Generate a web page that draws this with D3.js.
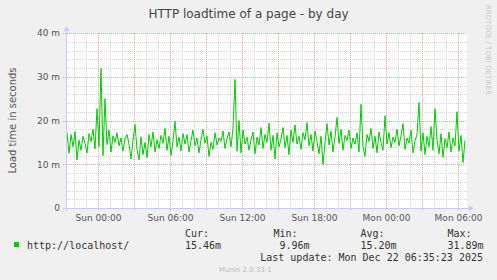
<!DOCTYPE html>
<html>
<head>
<meta charset="utf-8">
<script src="https://cdn.jsdelivr.net/npm/d3@7"></script>
<style>
  body { margin: 0; background: #f0f0f0; }
  text { font-family: "DejaVu Sans", sans-serif; }
  .mono { font-family: "DejaVu Sans Mono", monospace; white-space: pre; }
</style>
</head>
<body>
<div id="chart"></div>
<script>
var outerWidth = 497,
    outerHeight = 280
var plotLeft = 66, plotRight = 467, plotTop = 33, plotBottom = 208

// time window of the graph and the samples (10 min steps)
var viewStart = new Date(2025, 11, 20, 21, 20)
var viewEnd = new Date(2025, 11, 22, 6, 45)
var sampleStart = new Date(2025, 11, 20, 21, 25)
var sampleStepMin = 10

var loadtimeMs = [
    17.2, 12.5, 16.8, 14.0, 17.5, 11.0, 15.5, 13.2, 16.4, 14.8, 12.6, 17.0, 15.2, 18.0, 13.5, 22.7, 14.0, 31.89, 12.0, 25.0,
    14.5, 17.8, 12.8, 16.5, 15.0, 17.2, 14.2, 16.0, 13.0, 15.8, 16.8, 14.6, 11.2, 15.5, 19.1, 13.4, 11.0, 16.2, 12.2, 15.0,
    11.5, 16.8, 14.0, 17.4, 12.8, 15.6, 13.6, 16.6, 14.8, 18.2, 13.2, 16.4, 12.0, 15.2, 19.8, 14.0, 16.2, 13.0, 17.0, 14.6,
    16.8, 12.8, 15.4, 17.8, 14.2, 16.0, 12.6, 15.6, 18.0, 14.8, 16.4, 11.8, 15.0, 13.4, 17.2, 14.4, 16.0, 15.2, 17.6, 13.6,
    15.8, 17.4, 14.0, 18.2, 29.4, 13.0, 20.0, 12.6, 17.8, 14.6, 16.2, 13.2, 15.6, 17.4, 12.4, 16.2, 14.4, 18.4, 13.6, 16.8,
    15.0, 19.4, 13.2, 16.6, 11.2, 17.2, 14.0, 15.8, 18.4, 13.8, 16.6, 12.2, 17.8, 15.0, 19.0, 14.6, 16.4, 13.4, 17.2, 15.6,
    19.5, 14.2, 16.8, 13.0, 17.6, 15.2, 12.4, 16.4, 9.96, 15.0, 19.3, 14.4, 17.6, 12.8, 16.2, 20.7, 14.8, 18.0, 13.2, 16.6,
    15.4, 17.8, 13.6, 16.0, 14.6, 17.2, 12.8, 23.7, 14.0, 11.8, 16.8, 15.2, 18.2, 13.6, 16.4, 12.6, 17.4, 15.0, 13.2, 21.1,
    14.6, 17.2, 13.8, 16.2, 15.0, 18.0, 14.2, 16.6, 19.3, 13.4, 16.0, 14.8, 17.8, 12.6, 15.4, 16.8, 24.1, 13.0, 17.2, 12.2,
    16.4, 14.0, 18.6, 13.2, 22.7, 15.6, 12.4, 17.0, 11.6, 15.8, 13.8, 17.4, 12.8, 16.0, 14.2, 22.0, 13.0, 16.6, 10.4, 15.46
]

var yMajorTicks = [0, 10, 20, 30, 40]
var yMinorTicks = [2, 4, 6, 8, 12, 14, 16, 18, 22, 24, 26, 28, 32, 34, 36, 38]
var legendLabel = "http://localhost/"
var legendHeads = ["Cur:", "Min:", "Avg:", "Max:"]
var legendValues = ["15.46m", " 9.96m", "15.20m", "31.89m"]
var lastUpdate = "Last update: Mon Dec 22 06:35:23 2025"

var data = loadtimeMs.map(function(v, i) {
    return { t: d3.timeMinute.offset(sampleStart, i * sampleStepMin), v: v }
})

var svg = d3.select("#chart")
    .append("svg")
    .attr("width", outerWidth)
    .attr("height", outerHeight)

svg.append("rect")
    .attr("width", outerWidth)
    .attr("height", outerHeight)
    .attr("fill", "#f0f0f0")

var xScale = d3.scaleTime().domain([viewStart, viewEnd]).range([plotLeft, plotRight])
var yScale = d3.scaleLinear().domain([0, 40]).range([plotBottom, plotTop])

svg.append("rect")
    .attr("x", plotLeft)
    .attr("y", plotTop)
    .attr("width", plotRight - plotLeft)
    .attr("height", plotBottom - plotTop)
    .attr("fill", "#ffffff")

var hourTicks = d3.timeHour.range(viewStart, viewEnd)
var minorX = hourTicks.filter(function(d) { return d.getHours() % 3 != 0 })
var majorX = hourTicks.filter(function(d) { return d.getHours() % 3 == 0 })
var labelX = hourTicks.filter(function(d) { return d.getHours() % 6 == 0 })

var grid = svg.append("g").attr("shape-rendering", "crispEdges")

// minor grid
grid.selectAll(".vmin").data(minorX).enter().append("line")
    .attr("x1", d => Math.round(xScale(d)) + 0.5).attr("x2", d => Math.round(xScale(d)) + 0.5)
    .attr("y1", plotTop).attr("y2", plotBottom)
    .attr("stroke", "#d4d4d4").attr("stroke-dasharray", "1,1")
grid.selectAll(".hmin").data(yMinorTicks).enter().append("line")
    .attr("x1", plotLeft).attr("x2", plotRight)
    .attr("y1", d => Math.round(yScale(d)) + 0.5).attr("y2", d => Math.round(yScale(d)) + 0.5)
    .attr("stroke", "#d4d4d4").attr("stroke-dasharray", "1,1")

// major grid
grid.selectAll(".vmaj").data(majorX).enter().append("line")
    .attr("x1", d => Math.round(xScale(d)) + 0.5).attr("x2", d => Math.round(xScale(d)) + 0.5)
    .attr("y1", plotTop).attr("y2", plotBottom + 3)
    .attr("stroke", "#f2a0a0").attr("stroke-dasharray", "1,1")
grid.selectAll(".hmaj").data(yMajorTicks.slice(1)).enter().append("line")
    .attr("x1", plotLeft - 3).attr("x2", plotRight)
    .attr("y1", d => Math.round(yScale(d)) + 0.5).attr("y2", d => Math.round(yScale(d)) + 0.5)
    .attr("stroke", "#f2a0a0").attr("stroke-dasharray", "1,1")

// data line
var line = d3.line()
    .x(d => xScale(d.t))
    .y(d => yScale(d.v))

svg.append("path")
    .datum(data)
    .attr("d", line)
    .attr("fill", "none")
    .attr("stroke", "#00cc00")
    .attr("stroke-width", 1)

// axes
var xAxis = svg.append("g")
    .attr("transform", "translate(0," + plotBottom + ")")
    .call(d3.axisBottom(xScale).tickValues(labelX).tickSize(0).tickPadding(7)
        .tickFormat(d3.timeFormat("%a %H:%M")))
xAxis.select(".domain").remove()
xAxis.selectAll("text").attr("font-size", "9px").attr("fill", "#555")
    .attr("font-family", "DejaVu Sans")

var yAxis = svg.append("g")
    .attr("transform", "translate(" + plotLeft + ",0)")
    .call(d3.axisLeft(yScale).tickValues(yMajorTicks).tickSize(0).tickPadding(6)
        .tickFormat(d => d == 0 ? "0" : d + " m"))
yAxis.select(".domain").remove()
yAxis.selectAll("text").attr("font-size", "9px").attr("fill", "#555")
    .attr("font-family", "DejaVu Sans")

var axisColor = "#c8c8ff"
svg.append("line")
    .attr("x1", plotLeft + 0.5).attr("x2", plotLeft + 0.5)
    .attr("y1", plotBottom + 3).attr("y2", plotTop - 4)
    .attr("stroke", axisColor)
svg.append("line")
    .attr("x1", plotLeft - 3).attr("x2", plotRight + 4)
    .attr("y1", plotBottom + 0.5).attr("y2", plotBottom + 0.5)
    .attr("stroke", axisColor)
svg.append("path")
    .attr("d", "M" + (plotLeft - 2.5) + "," + (plotTop - 2) + "L" + (plotLeft + 0.5) + "," + (plotTop - 7) + "L" + (plotLeft + 3.5) + "," + (plotTop - 2) + "Z")
    .attr("fill", axisColor)
svg.append("path")
    .attr("d", "M" + (plotRight + 2) + "," + (plotBottom - 2.5) + "L" + (plotRight + 7) + "," + (plotBottom + 0.5) + "L" + (plotRight + 2) + "," + (plotBottom + 3.5) + "Z")
    .attr("fill", axisColor)

// titles
svg.append("text")
    .attr("x", 248.5)
    .attr("y", 18)
    .attr("text-anchor", "middle")
    .attr("font-size", "12px")
    .attr("fill", "#444")
    .text("HTTP loadtime of a page - by day")

svg.append("text")
    .attr("transform", "translate(16," + ((plotTop + plotBottom) / 2) + ") rotate(-90)")
    .attr("text-anchor", "middle")
    .attr("font-size", "10px")
    .attr("fill", "#555")
    .text("Load time in seconds")

svg.append("text")
    .attr("transform", "translate(486,5) rotate(90)")
    .attr("font-size", "7px")
    .attr("fill", "#c8c8c8")
    .text("RRDTOOL / TOBI OETIKER")

// legend
svg.append("rect")
    .attr("x", 14).attr("y", 242)
    .attr("width", 5).attr("height", 5)
    .attr("fill", "#00cc00")

svg.append("text")
    .attr("class", "mono")
    .attr("x", 27).attr("y", 249)
    .attr("font-size", "10px")
    .attr("fill", "#333")
    .text(legendLabel)

var colX = [185, 273.5, 360.5, 447.5]
legendHeads.forEach(function(h, i) {
    svg.append("text").attr("class", "mono")
        .attr("x", colX[i]).attr("y", 237)
        .attr("font-size", "10px").attr("fill", "#333")
        .text(h)
    svg.append("text").attr("class", "mono")
        .attr("x", colX[i]).attr("y", 249)
        .attr("font-size", "10px").attr("fill", "#333")
        .text(legendValues[i])
})

svg.append("text")
    .attr("class", "mono")
    .attr("x", 483).attr("y", 261)
    .attr("text-anchor", "end")
    .attr("font-size", "10px")
    .attr("fill", "#333")
    .text(lastUpdate)

svg.append("text")
    .attr("x", 219).attr("y", 272)
    .attr("font-size", "7px")
    .attr("fill", "#bbb")
    .text("Munin 2.0.33-1")
</script>
</body>
</html>
